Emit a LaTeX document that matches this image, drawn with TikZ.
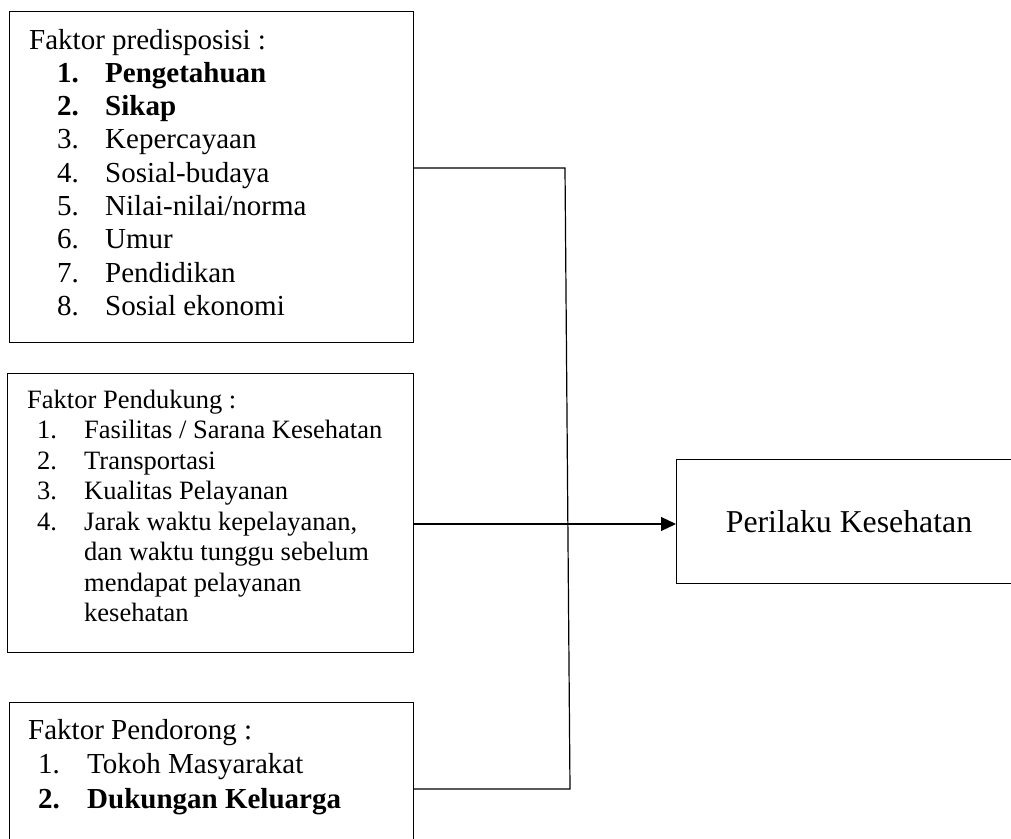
\documentclass[tikz,border=0pt]{standalone}
\usepackage{fontspec}
\setmainfont{Liberation Serif}
\usetikzlibrary{arrows.meta}
\begin{document}
\begin{tikzpicture}[x=1pt,y=-1pt,
  box/.style={draw, line width=1.2pt, inner sep=0pt, anchor=north west},
  tA/.style={anchor=base west, inner sep=0pt, font=\fontsize{29}{33}\selectfont},
  tB/.style={anchor=base west, inner sep=0pt, font=\fontsize{26.5}{30}\selectfont},
  tC/.style={anchor=base, inner sep=0pt, font=\fontsize{31.8}{36}\selectfont},
  conn/.style={line width=1.2pt}]
\useasboundingbox (0,0) rectangle (1011,838);
% boxes
\node[box, minimum width=404pt, minimum height=331pt] (b1) at (9,11) {};
\node[box, minimum width=406pt, minimum height=279pt] (b2) at (7,373) {};
\node[box, minimum width=404pt, minimum height=150pt] (b3) at (9,702) {};
\node[box, minimum width=345pt, minimum height=124pt] (b4) at (676,459) {};
% box 1 text
\node[tA] (a0) at (29,49) {Faktor predisposisi :};
\node[tA] (a1n) at (57,82.3) {\textbf{1.}};
\node[tA] (a1) at (105,82.3) {\textbf{Pengetahuan}};
\node[tA] (a2n) at (57,115.6) {\textbf{2.}};
\node[tA] (a2) at (105,115.6) {\textbf{Sikap}};
\node[tA] (a3n) at (57,148.9) {3.};
\node[tA] (a3) at (105,148.9) {Kepercayaan};
\node[tA] (a4n) at (57,182.2) {4.};
\node[tA] (a4) at (105,182.2) {Sosial-budaya};
\node[tA] (a5n) at (57,215.5) {5.};
\node[tA] (a5) at (105,215.5) {Nilai-nilai/norma};
\node[tA] (a6n) at (57,248.8) {6.};
\node[tA] (a6) at (105,248.8) {Umur};
\node[tA] (a7n) at (57,282.1) {7.};
\node[tA] (a7) at (105,282.1) {Pendidikan};
\node[tA] (a8n) at (57,315.4) {8.};
\node[tA] (a8) at (105,315.4) {Sosial ekonomi};
% box 2 text
\node[tB] (p0) at (27,408) {Faktor Pendukung :};
\node[tB] (p1n) at (37,438.5) {1.};
\node[tB] (p1) at (84,438.5) {Fasilitas / Sarana Kesehatan};
\node[tB] (p2n) at (37,469) {2.};
\node[tB] (p2) at (84,469) {Transportasi};
\node[tB] (p3n) at (37,499.5) {3.};
\node[tB] (p3) at (84,499.5) {Kualitas Pelayanan};
\node[tB] (p4n) at (37,530) {4.};
\node[tB] (p4) at (84,530) {Jarak waktu kepelayanan,};
\node[tB] (p5) at (84,560.5) {dan waktu tunggu sebelum};
\node[tB] (p6) at (84,591) {mendapat pelayanan};
\node[tB] (p7) at (84,621.5) {kesehatan};
% box 3 text
\node[tA] (d0) at (28,739) {Faktor Pendorong :};
\node[tA] (d1n) at (38,773) {1.};
\node[tA] (d1) at (87,773) {Tokoh Masyarakat};
\node[tA] (d2n) at (38,808) {\textbf{2.}};
\node[tA] (d2) at (87,808) {\textbf{Dukungan Keluarga}};
% box 4 text
\node[tC] (t4) at (849,532) {Perilaku Kesehatan};
% connectors
\coordinate (j1) at (565,168);
\coordinate (j3) at (570,789);
\coordinate (ya) at (0,524);
\draw[conn] (b1.east |- j1) -- (j1) -- (j3) -- (b3.east |- j3);
\draw[conn, -{Triangle[length=15pt,width=14pt]}] (b2.east |- ya) -- (b4.west |- ya);
\end{tikzpicture}
\end{document}
